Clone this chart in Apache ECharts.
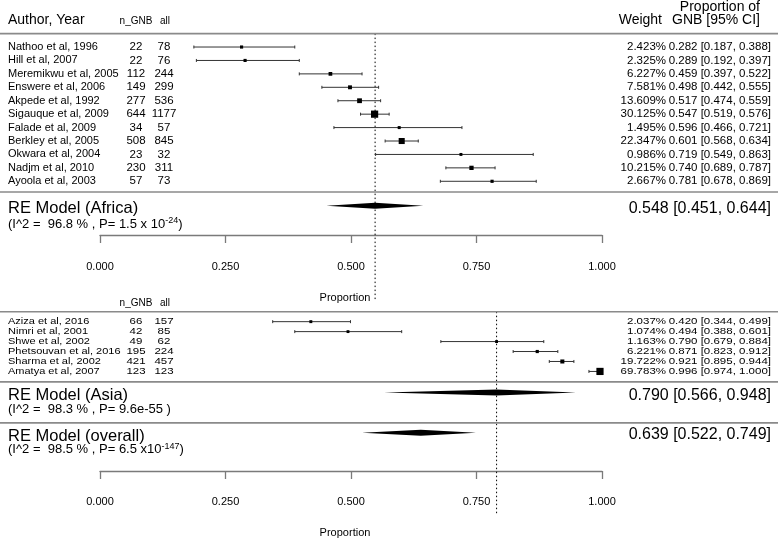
<!DOCTYPE html>
<html><head><meta charset="utf-8">
<script src="https://cdn.jsdelivr.net/npm/echarts@6/dist/echarts.min.js"></script>
<style>html,body{margin:0;padding:0;background:#fff}#c{width:778px;height:539px}</style>
</head><body><div id="c"></div>
<script>
// ---------- DATA ----------
const africaStudies = ['Nathoo et al, 1996','Hill et al, 2007','Meremikwu et al, 2005','Enswere et al, 2006','Akpede et al, 1992','Sigauque et al, 2009','Falade et al, 2009','Berkley et al, 2005','Okwara et al, 2004','Nadjm et al, 2010','Ayoola et al, 2003'];
const africaNGNB = [22,22,112,149,277,644,34,508,23,230,57];
const africaAll = [78,76,244,299,536,1177,57,845,32,311,73];
const africaWeight = [2.423,2.325,6.227,7.581,13.609,30.125,1.495,22.347,0.986,10.215,2.667];
const africaEst = [0.282,0.289,0.459,0.498,0.517,0.547,0.596,0.601,0.719,0.740,0.781];
const africaLo = [0.187,0.192,0.397,0.442,0.474,0.519,0.466,0.568,0.549,0.689,0.678];
const africaHi = [0.388,0.397,0.522,0.555,0.559,0.576,0.721,0.634,0.863,0.787,0.869];

const asiaStudies = ['Aziza et al, 2016','Nimri et al, 2001','Shwe et al, 2002','Phetsouvan et al, 2016','Sharma et al, 2002','Amatya et al, 2007'];
const asiaNGNB = [66,42,49,195,421,123];
const asiaAll = [157,85,62,224,457,123];
const asiaWeight = [2.037,1.074,1.163,6.221,19.722,69.783];
const asiaEst = [0.420,0.494,0.790,0.871,0.921,0.996];
const asiaLo = [0.344,0.388,0.679,0.823,0.895,0.974];
const asiaHi = [0.499,0.601,0.884,0.912,0.944,1.000];

const pooledLabels = ['RE Model (Africa)','RE Model (Asia)','RE Model (overall)'];
const pooledEst = [0.548,0.790,0.639];
const pooledLo = [0.451,0.566,0.522];
const pooledHi = [0.644,0.948,0.749];
const pooledHetMain = ['(I^2 =  96.8 % , P= 1.5 x 10','(I^2 =  98.3 % , P= 9.6e-55 ','(I^2 =  98.5 % , P= 6.5 x10'];
const pooledHetSup = ['-24','','-147'];

const xTicks = [0, 0.25, 0.5, 0.75, 1];
const xAxisTitle = 'Proportion';

// ---------- LAYOUT ----------
const FONT = '"Liberation Sans", Arial, Helvetica, sans-serif';
const COL = {label: 8, n: 136, all: 164, weight: 666, ci: 771};
const GRIDS = [
  {top: 33.6, height: 201.4, min: -1, max: 14, seps: [-1, 10.8], dashEnd: 18.84, textScale: 1},
  {top: 311.7, height: 160.3, min: -1, max: 15, seps: [-1, 6.05, 10.17], dashEnd: 19.4, textScale: 0.82}
];
const POOLED_LAYOUT = [
  {grid: 0, diamondRow: 11.82, titleRow: 12.0, hetRow: 13.2, valRow: 12.0},
  {grid: 1, diamondRow: 7.11, titleRow: 7.41, hetRow: 8.85, valRow: 7.41},
  {grid: 1, diamondRow: 11.16, titleRow: 11.5, hetRow: 12.85, valRow: 11.3}
];
const DASH_REF = [0, 1]; // pooled index used for reference line in each grid

function txt(x, y, text, align, size, scaleY, extra) {
  return Object.assign({
    type: 'text', x: x, y: y, scaleY: scaleY || 1,
    style: {text: text, x: 0, y: 0, align: align, verticalAlign: 'middle',
      fontFamily: FONT, fontSize: size, fill: '#000'}
  }, extra || {});
}

function studyRenderer(studies, nG, nAll, weights, est, lo, hi, textScale) {
  const maxW = Math.max.apply(null, weights);
  return function (params, api) {
    const i = params.dataIndex;
    const row = api.value(3);
    const pLo = api.coord([api.value(1), row]);
    const pHi = api.coord([api.value(2), row]);
    const pE = api.coord([api.value(0), row]);
    const s = 2.8 + 4.4 * weights[i] / maxW;
    const y = pE[1];
    const lineStyle = {stroke: '#333', lineWidth: 1};
    return {
      type: 'group',
      children: [
        {type: 'line', shape: {x1: pLo[0], y1: y, x2: pHi[0], y2: y}, style: lineStyle},
        {type: 'line', shape: {x1: pLo[0], y1: y - 1.5, x2: pLo[0], y2: y + 1.5}, style: lineStyle},
        {type: 'line', shape: {x1: pHi[0], y1: y - 1.5, x2: pHi[0], y2: y + 1.5}, style: lineStyle},
        {type: 'rect', shape: {x: pE[0] - s / 2, y: y - s / 2, width: s, height: s}, style: {fill: '#000'}},
        txt(COL.label, y, studies[i], 'left', 11, textScale),
        txt(COL.n, y, String(nG[i]), 'center', 11.5, textScale),
        txt(COL.all, y, String(nAll[i]), 'center', 11.5, textScale),
        txt(COL.weight, y, weights[i].toFixed(3) + '%', 'right', 11.5, textScale),
        txt(COL.ci, y, est[i].toFixed(3) + ' [' + lo[i].toFixed(3) + ', ' + hi[i].toFixed(3) + ']', 'right', 11.5, textScale)
      ]
    };
  };
}

function pooledRenderer(params, api) {
  const k = api.value(4);
  const L = POOLED_LAYOUT[k];
  const row = L.diamondRow;
  const a = api.coord([api.value(1), row]);
  const b = api.coord([api.value(0), row]);
  const c = api.coord([api.value(2), row]);
  const h = 3;
  const yT = api.coord([0, L.titleRow])[1];
  const yH = api.coord([0, L.hetRow])[1];
  const yV = api.coord([0, L.valRow])[1];
  return {
    type: 'group',
    children: [
      {type: 'polygon', shape: {points: [[a[0], a[1]], [b[0], b[1] - h], [c[0], c[1]], [b[0], b[1] + h]]}, style: {fill: '#000'}},
      txt(COL.label, yT, pooledLabels[k], 'left', 16.5),
      {type: 'text', x: COL.label, y: yH, style: {
        text: '{a|' + pooledHetMain[k] + '}' + (pooledHetSup[k] ? '{s|' + pooledHetSup[k] + '}' : '') + '{a|)}',
        x: 0, y: 0, align: 'left', verticalAlign: 'middle', fontFamily: FONT, fontSize: 13, fill: '#000',
        rich: {
          a: {fontFamily: FONT, fontSize: 13, fill: '#000', lineHeight: 16, verticalAlign: 'middle'},
          s: {fontFamily: FONT, fontSize: 9, fill: '#000', lineHeight: 16, verticalAlign: 'top'}
        }
      }},
      txt(COL.ci, yV, pooledEst[k].toFixed(3) + ' [' + pooledLo[k].toFixed(3) + ', ' + pooledHi[k].toFixed(3) + ']', 'right', 16)
    ]
  };
}

function sepRenderer(params, api) {
  const y = api.coord([0, api.value(0)])[1];
  return {type: 'line', shape: {x1: 0, y1: y, x2: api.getWidth(), y2: y}, style: {stroke: '#8a8a8a', lineWidth: 1.6}};
}

function dashRenderer(gi) {
  return function (params, api) {
    const p1 = api.coord([api.value(0), GRIDS[gi].min]);
    const p2 = api.coord([api.value(0), GRIDS[gi].dashEnd]);
    return {type: 'line', shape: {x1: p1[0], y1: p1[1], x2: p2[0], y2: p2[1]}, style: {stroke: '#000', lineWidth: 1, lineDash: [1.5, 2.5]}, z2: -1};
  };
}

const chart = echarts.init(document.getElementById('c'), null, {renderer: 'canvas'});

const xAxes = GRIDS.map((g, gi) => ({
  type: 'value', gridIndex: gi, min: xTicks[0], max: xTicks[xTicks.length - 1], interval: xTicks[1] - xTicks[0],
  position: 'bottom',
  splitLine: {show: false},
  axisLine: {show: true, onZero: false, lineStyle: {color: '#7a7a7a', width: 1.3}},
  axisTick: {show: true, length: 8, lineStyle: {color: '#7a7a7a', width: 1.3}},
  axisLabel: {show: true, margin: gi === 0 ? 26 : 25, color: '#000', fontFamily: FONT, fontSize: 11, formatter: v => v.toFixed(3)},
  name: xAxisTitle, nameLocation: 'middle', nameGap: gi === 0 ? 57 : 56,
  nameTextStyle: {color: '#000', fontFamily: FONT, fontSize: 11, padding: [0, 12, 0, 0]}
}));
const yAxes = GRIDS.map((g, gi) => ({
  type: 'value', gridIndex: gi, min: g.min, max: g.max, inverse: true, show: false
}));

const series = [];
GRIDS.forEach((g, gi) => {
  series.push({type: 'custom', xAxisIndex: gi, yAxisIndex: gi, clip: false, silent: true,
    data: g.seps.map(v => [v]), renderItem: sepRenderer, encode: {x: -1, y: 0}});
  const k = DASH_REF[gi];
  series.push({type: 'custom', xAxisIndex: gi, yAxisIndex: gi, clip: false, silent: true, z: 1,
    data: [[pooledEst[k]]], renderItem: dashRenderer(gi), encode: {x: 0}});
});
series.push({type: 'custom', xAxisIndex: 0, yAxisIndex: 0, clip: false, z: 3,
  data: africaEst.map((e, i) => [e, africaLo[i], africaHi[i], i]),
  renderItem: studyRenderer(africaStudies, africaNGNB, africaAll, africaWeight, africaEst, africaLo, africaHi, GRIDS[0].textScale),
  encode: {x: [0, 1, 2], y: 3}});
series.push({type: 'custom', xAxisIndex: 1, yAxisIndex: 1, clip: false, z: 3,
  data: asiaEst.map((e, i) => [e, asiaLo[i], asiaHi[i], i]),
  renderItem: studyRenderer(asiaStudies, asiaNGNB, asiaAll, asiaWeight, asiaEst, asiaLo, asiaHi, GRIDS[1].textScale),
  encode: {x: [0, 1, 2], y: 3}});
POOLED_LAYOUT.forEach((L, k) => {
  series.push({type: 'custom', xAxisIndex: L.grid, yAxisIndex: L.grid, clip: false, z: 3,
    data: [[pooledEst[k], pooledLo[k], pooledHi[k], L.diamondRow, k]],
    renderItem: pooledRenderer, encode: {x: [0, 1, 2], y: 3}});
});

const hdr = (x, y, text, align, size) => ({type: 'text', x: x, y: y, style: {text: text, align: align, verticalAlign: 'middle', fontFamily: FONT, fontSize: size, fill: '#000'}});

chart.setOption({
  animation: false,
  backgroundColor: '#fff',
  grid: GRIDS.map(g => ({left: 100, width: 502, top: g.top, height: g.height, containLabel: false})),
  xAxis: xAxes,
  yAxis: yAxes,
  series: series,
  graphic: [
    hdr(8, 20, 'Author, Year', 'left', 14),
    hdr(136, 21, 'n_GNB', 'center', 10),
    hdr(165, 21, 'all', 'center', 10),
    hdr(662, 20, 'Weight', 'right', 14),
    hdr(760, 7, 'Proportion of', 'right', 14),
    hdr(760, 20, 'GNB [95% CI]', 'right', 14),
    hdr(136, 303, 'n_GNB', 'center', 10),
    hdr(165, 303, 'all', 'center', 10)
  ]
});
</script>
</body></html>
